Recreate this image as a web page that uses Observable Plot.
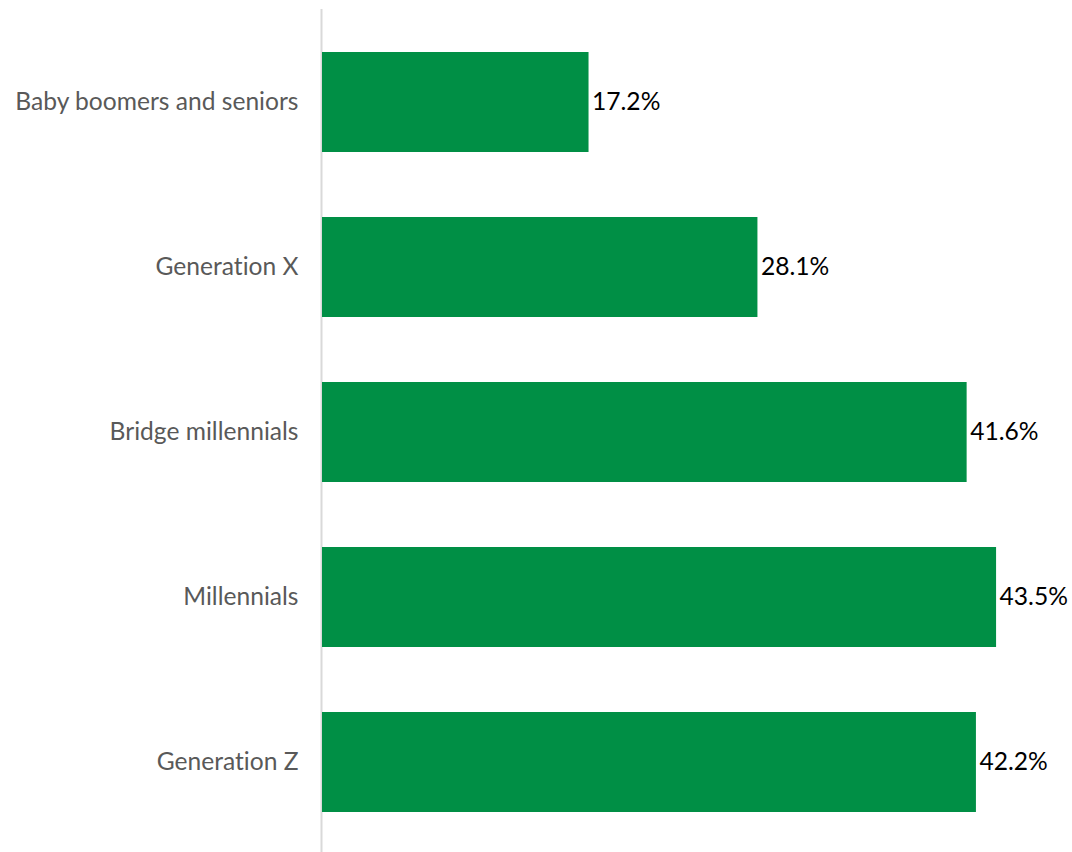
<!DOCTYPE html>
<html>
<head>
<meta charset="utf-8">
<script src="https://cdn.jsdelivr.net/npm/d3@7"></script>
<script src="https://cdn.jsdelivr.net/npm/@observablehq/plot@0.6"></script>
<style>
  html, body { margin: 0; padding: 0; background: #fff; }
  #chart svg { display: block; }
  #chart svg text { font-variant-ligatures: none; font-feature-settings: "liga" 0; }
</style>
</head>
<body>
<div id="chart"></div>
<script>
const categories = ["Baby boomers and seniors", "Generation X", "Bridge millennials", "Millennials", "Generation Z"];
const values = [17.2, 28.1, 41.6, 43.5, 42.2];

const data = categories.map((c, i) => ({category: c, value: values[i]}));

const chart = Plot.plot({
  width: 1072,
  height: 852,
  marginLeft: 322,
  marginRight: 0,
  marginTop: 9,
  marginBottom: 0,
  style: {fontFamily: "Lato, sans-serif", background: "#fff"},
  x: {domain: [0, 48.4], axis: null},
  y: {domain: categories, range: [19.5, 844.5], paddingInner: 0.394, paddingOuter: 0.197, axis: null},
  marks: [
    Plot.ruleX([0], {stroke: "#d9d9d9", strokeWidth: 2, dx: -1}),
    Plot.barX(data, {x: "value", y: "category", fill: "#008f45"}),
    Plot.text(data, {x: 0, y: "category", text: "category", textAnchor: "end", dx: -24, fill: "#595959", fontSize: 24.6}),
    Plot.text(data, {x: "value", y: "category", text: d => d.value.toFixed(1) + "%", textAnchor: "start", dx: 3, fill: "#000", fontSize: 24.6})
  ]
});
document.getElementById("chart").appendChild(chart);
</script>
</body>
</html>
